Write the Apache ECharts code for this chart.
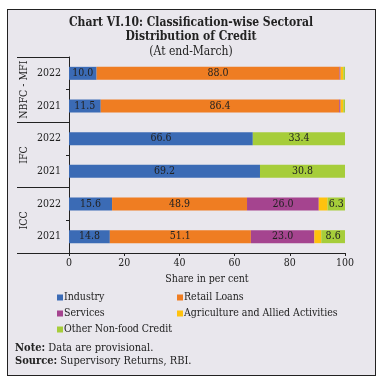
<!DOCTYPE html>
<html><head><meta charset="utf-8">
<script src="https://cdn.jsdelivr.net/npm/echarts@6/dist/echarts.min.js"></script>
<style>
html,body{margin:0;padding:0;background:#fff;}
#frame{position:absolute;left:7px;top:9px;width:367px;height:365px;border:1.5px solid #222;background:#e9e7ed;}
#chart{position:absolute;left:0;top:0;width:382px;height:386px;}
</style></head>
<body>
<div id="frame"></div>
<div id="chart"></div>
<script>
const years = ['2022','2021','2022','2021','2022','2021'];
const groups = ['NBFC - MFI','IFC','ICC'];
const seriesNames = ['Industry','Retail Loans','Services','Agriculture and Allied Activities','Other Non-food Credit'];
const industry = [10.0, 11.5, 66.6, 69.2, 15.6, 14.8];
const retail   = [88.0, 86.4, 0, 0, 48.9, 51.1];
const services = [0.4, 0.5, 0, 0, 26.0, 23.0];
const agri     = [1.0, 1.0, 0, 0, 3.2, 2.5];
const other    = [0.6, 0.6, 33.4, 30.8, 6.3, 8.6];
const xTicks = [0, 20, 40, 60, 80, 100];
const colors = ['#3b6bb5','#ef7d22','#a5448f','#ffc20e','#a6cd3a'];

const SERIF = '"DejaVu Serif Condensed", "DejaVu Serif", serif';
const chart = echarts.init(document.getElementById('chart'), null, {renderer:'canvas'});
const values = [industry, retail, services, agri, other];
const series = seriesNames.map((n,i)=>({
  name:n, type:'bar', stack:'total', barWidth:13, yAxisIndex:0,
  itemStyle:{color:colors[i]},
  label:{show:true, position:'inside', color:'#222', fontFamily:SERIF, fontSize:10.5,
    formatter:p=> p.value>=6 ? p.value.toFixed(1) : ''},
  data: values[i]
}));
chart.setOption({
  backgroundColor:'transparent',
  animation:false,
  textStyle:{fontFamily:SERIF},
  title:{text:'Chart VI.10: Classification-wise Sectoral\nDistribution of Credit',
    subtext:'(At end-March)', left:'center', top:11, itemGap:2,
    textStyle:{fontFamily:SERIF, fontWeight:'bold', fontSize:12, color:'#222', lineHeight:14},
    subtextStyle:{fontFamily:SERIF, fontSize:12, color:'#222'}},
  grid:{left:69, right:37, top:57, bottom:133, containLabel:false},
  xAxis:{type:'value', min:0, max:100, interval:20,
    axisLine:{show:true, lineStyle:{color:'#222', width:1}},
    axisTick:{show:true, length:3, lineStyle:{color:'#222'}}, splitLine:{show:false},
    axisLabel:{color:'#222', fontFamily:SERIF, fontSize:10.5, margin:5,
      formatter:v=> xTicks.includes(v)? String(v):''},
    name:'Share in per cent', nameLocation:'middle', nameGap:21,
    nameTextStyle:{color:'#222', fontFamily:SERIF, fontSize:10.5}},
  yAxis:[
    {type:'category', data:years, inverse:true,
      axisLine:{show:true, lineStyle:{color:'#222'}},
      axisTick:{show:true, length:3, interval:0, lineStyle:{color:'#222'}},
      axisLabel:{color:'#222', fontFamily:SERIF, fontSize:10.5, margin:8, interval:0}},
    {type:'category', data:groups, inverse:true, position:'left', offset:0,
      axisLine:{show:false},
      axisTick:{show:true, length:52, interval:0, lineStyle:{color:'#222'}},
      axisLabel:{color:'#222', fontFamily:SERIF, fontSize:10.5, rotate:90, margin:39, interval:0}}
  ],
  legend:[
    {data:['Industry','Services','Other Non-food Credit'], orient:'vertical', left:52, top:287,
      itemWidth:6, itemHeight:6, itemGap:5, icon:'rect',
      textStyle:{fontFamily:SERIF, fontSize:10.5, color:'#222', padding:[0,0,0,-4]}},
    {data:['Retail Loans','Agriculture and Allied Activities'], orient:'vertical', left:172, top:287,
      itemWidth:6, itemHeight:6, itemGap:5, icon:'rect',
      textStyle:{fontFamily:SERIF, fontSize:10.5, color:'#222', padding:[0,0,0,-4]}}
  ],
  graphic:[
    {type:'text', left:15, top:342, style:{
      text:'{b|Note:} Data are provisional.\n{b|Source:} Supervisory Returns, RBI.',
      rich:{b:{fontWeight:'bold', fontFamily:SERIF, fontSize:11, fill:'#222'}},
      font:'11px "DejaVu Serif Condensed", "DejaVu Serif"', fill:'#222', lineHeight:13}}
  ],
  series: series
});
</script>
</body></html>
